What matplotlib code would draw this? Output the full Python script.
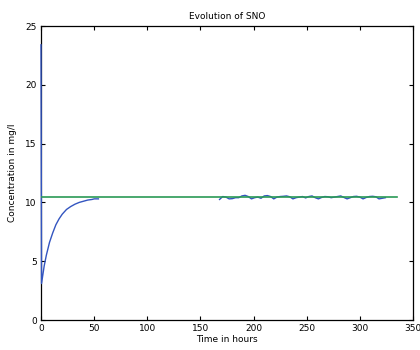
import matplotlib
matplotlib.use('Agg')
import matplotlib.pyplot as plt

# start-up transient (hours, mg/l)
t_start = [0, 0.5, 3, 5, 8, 11, 14, 17, 20, 24, 28, 32, 36, 40, 44, 48, 50, 54]
c_start = [23.4, 3.1, 4.6, 5.5, 6.6, 7.4, 8.1, 8.6, 9.0, 9.4, 9.65, 9.85,
           10.0, 10.1, 10.2, 10.25, 10.3, 10.3]

# measured period, sampled every 3 h
t_meas = list(range(168, 327, 3))
c_meas = [10.25, 10.5, 10.45, 10.3, 10.32, 10.4, 10.4, 10.55, 10.6, 10.5,
          10.3, 10.4, 10.45, 10.35, 10.55, 10.58, 10.5, 10.3, 10.45, 10.5,
          10.52, 10.55, 10.48, 10.3, 10.4, 10.45, 10.5, 10.38, 10.5, 10.55,
          10.4, 10.3, 10.42, 10.5, 10.48, 10.4, 10.45, 10.5, 10.55, 10.42,
          10.3, 10.4, 10.5, 10.52, 10.45, 10.3, 10.42, 10.5, 10.52, 10.48,
          10.3, 10.35, 10.4]

# reference level
t_ref = [0, 335]
c_ref = [10.42, 10.42]

xticks = [0, 50, 100, 150, 200, 250, 300, 350]
yticks = [0, 5, 10, 15, 20, 25]

fig = plt.figure(figsize=(4.2, 3.5), dpi=100)
ax = fig.add_axes([41 / 420, 30 / 350, 372 / 420, 294 / 350])

# lines above the spines so the t=0 drop shows along the left axis
ax.plot(t_start, c_start, color='#3355c0', lw=1.0, zorder=3, clip_on=False)
ax.plot(t_meas[:len(c_meas)], c_meas, color='#3355c0', lw=1.0, zorder=3)
ax.plot(t_ref, c_ref, color='#2a9a55', lw=1.2, zorder=3)

ax.set_xlim(0, 350)
ax.set_ylim(0, 25)
ax.set_xticks(xticks)
ax.set_yticks(yticks)
ax.tick_params(direction='in', top=True, right=True, labelsize=6.5,
               length=3, width=0.8, pad=3)
for s in ax.spines.values():
    s.set_linewidth(0.9)

ax.set_title('Evolution of SNO', fontsize=6.5, pad=5)
ax.set_xlabel('Time in hours', fontsize=6.5, labelpad=1)
ax.set_ylabel('Concentration in mg/l', fontsize=6.5, labelpad=6)

fig.savefig('out.png', dpi=100)
